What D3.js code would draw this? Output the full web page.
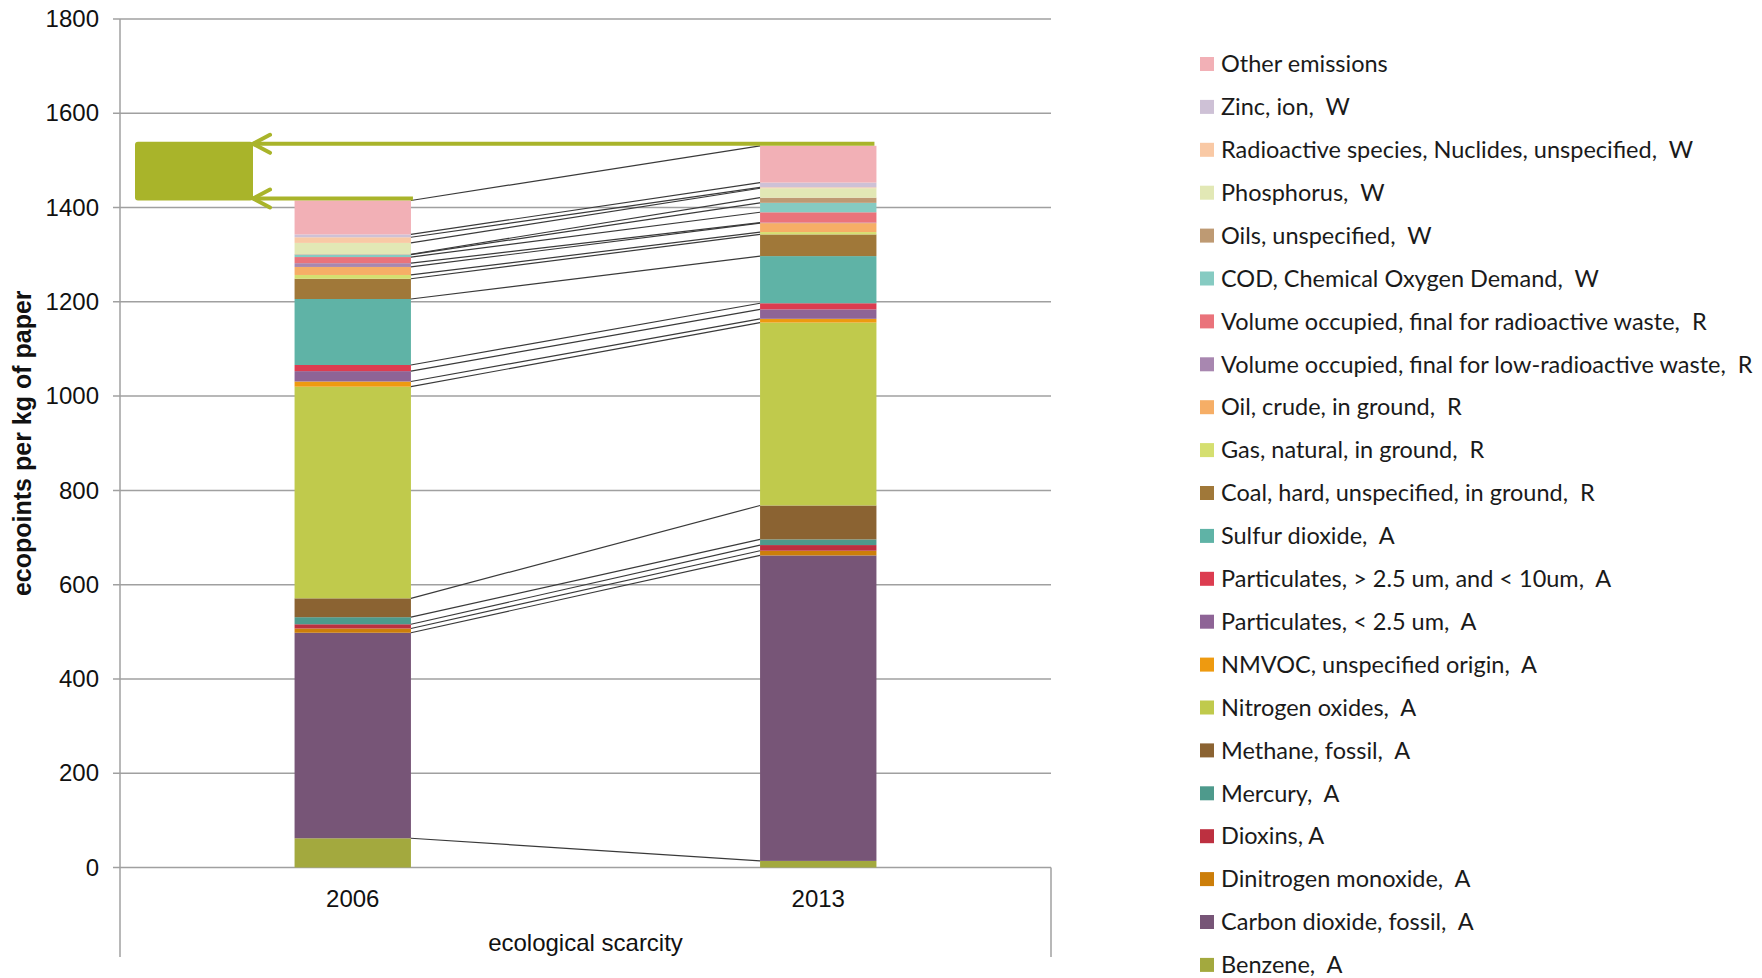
<!DOCTYPE html>
<html>
<head>
<meta charset="utf-8">
<script src="https://cdn.jsdelivr.net/npm/d3@7"></script>
<style>
  html, body { margin: 0; padding: 0; background: #fff; }
  svg { display: block; }
  .legend text { white-space: pre; }
</style>
</head>
<body>
<svg id="chart" width="1762" height="978"></svg>
<script>
// Ecological scarcity impact per kg of paper, stacked by substance
const years = ["2006", "2013"];

// Stacking order, bottom to top
const substances = [
  "Benzene,  A",
  "Carbon dioxide, fossil,  A",
  "Dinitrogen monoxide,  A",
  "Dioxins, A",
  "Mercury,  A",
  "Methane, fossil,  A",
  "Nitrogen oxides,  A",
  "NMVOC, unspecified origin,  A",
  "Particulates, < 2.5 um,  A",
  "Particulates, > 2.5 um, and < 10um,  A",
  "Sulfur dioxide,  A",
  "Coal, hard, unspecified, in ground,  R",
  "Gas, natural, in ground,  R",
  "Oil, crude, in ground,  R",
  "Volume occupied, final for low-radioactive waste,  R",
  "Volume occupied, final for radioactive waste,  R",
  "COD, Chemical Oxygen Demand,  W",
  "Oils, unspecified,  W",
  "Phosphorus,  W",
  "Radioactive species, Nuclides, unspecified,  W",
  "Zinc, ion,  W",
  "Other emissions"
];

const values2006 = [62, 436, 9, 9, 15, 40, 449, 11, 22, 13, 140, 43, 8, 17, 8, 13, 5, 1, 24, 12, 6, 72];
const values2013 = [14, 648, 10, 12, 12, 72, 388, 8, 20, 13, 100, 46, 5, 19, 1, 22, 20, 11, 20, 2, 10, 78];

const colors = [
  "#a3a93e", "#775577", "#cc7e0a", "#bd3040", "#4e9a8c", "#8b6332",
  "#c0ca4c", "#ee9a10", "#8e6496", "#dc3c50", "#5fb3a6", "#a07839",
  "#d5df70", "#f6ae66", "#a887b0", "#ea737b", "#86cbc2", "#be9a73",
  "#e2e8b5", "#f9c9a5", "#cec1d6", "#f2b0b6"
];

const yTicks = [0, 200, 400, 600, 800, 1000, 1200, 1400, 1600, 1800];
const groupLabel = "ecological scarcity";
const yTitle = "ecopoints per kg of paper";

// Rows keyed by year for d3.stack
const rows = years.map((yr, j) => {
  const row = { year: yr };
  substances.forEach((s, i) => { row[s] = (j === 0 ? values2006 : values2013)[i]; });
  return row;
});

const svg = d3.select("#chart");
const plotL = 120, plotR = 1051, plotT = 19, plotB = 867.5, axisFoot = 957;

const x = d3.scaleBand().domain(years).range([plotL, plotR]).padding(0);
const y = d3.scaleLinear().domain([0, 1800]).range([plotB, plotT]);
const barW = x.bandwidth() * 0.25;
const barX = yr => x(yr) + (x.bandwidth() - barW) / 2;

const color = d3.scaleOrdinal().domain(substances).range(colors);
const stacked = d3.stack().keys(substances)(rows);

// Gridlines with outside ticks
svg.append("g").selectAll("line").data(yTicks).join("line")
  .attr("x1", plotL - 7).attr("x2", plotR)
  .attr("y1", d => y(d)).attr("y2", d => y(d))
  .attr("stroke", "#a0a0a0").attr("stroke-width", 1.5);

// Value axis labels
const yAxis = svg.append("g").attr("transform", `translate(${plotL - 21},0)`)
  .call(d3.axisLeft(y).tickValues(yTicks).tickFormat(d3.format("d")).tickSize(0).tickPadding(0));
yAxis.select(".domain").remove();
yAxis.selectAll("text")
  .attr("font-family", "Liberation Sans, Arial, sans-serif")
  .attr("font-size", 24).attr("fill", "#111");

// Axis frame lines
svg.append("line").attr("x1", plotL).attr("x2", plotL).attr("y1", plotT).attr("y2", axisFoot)
  .attr("stroke", "#a0a0a0").attr("stroke-width", 1.5);
svg.append("line").attr("x1", plotR).attr("x2", plotR).attr("y1", plotB).attr("y2", axisFoot)
  .attr("stroke", "#a0a0a0").attr("stroke-width", 1.5);

// Stacked bars
svg.append("g").selectAll("g").data(stacked).join("g")
  .attr("fill", d => color(d.key))
  .selectAll("rect").data(d => d).join("rect")
  .attr("x", d => barX(d.data.year))
  .attr("width", barW)
  .attr("y", d => y(d[1]))
  .attr("height", d => y(d[0]) - y(d[1]));

// Series lines joining the top of each layer across the two bars
svg.append("g").selectAll("line").data(stacked).join("line")
  .attr("x1", barX(years[0]) + barW)
  .attr("x2", barX(years[1]))
  .attr("y1", d => y(d[0][1]))
  .attr("y2", d => y(d[1][1]))
  .attr("stroke", "#3a3a3a").attr("stroke-width", 1.2);

// Category labels
const catAxis = svg.append("g").attr("transform", `translate(0,${plotB})`)
  .call(d3.axisBottom(x).tickSize(0).tickPadding(22));
catAxis.select(".domain").remove();
catAxis.selectAll("text")
  .attr("font-family", "Liberation Sans, Arial, sans-serif")
  .attr("font-size", 24).attr("fill", "#111").attr("dy", "0.71em");

svg.append("text")
  .attr("x", (plotL + plotR) / 2).attr("y", 943).attr("dy", "0.35em")
  .attr("text-anchor", "middle")
  .attr("font-family", "Liberation Sans, Arial, sans-serif")
  .attr("font-size", 24).attr("fill", "#111")
  .text(groupLabel);

// Value axis title
svg.append("text")
  .attr("transform", `translate(22,${(plotT + plotB) / 2}) rotate(-90)`)
  .attr("dy", "0.35em")
  .attr("text-anchor", "middle")
  .attr("font-family", "Liberation Sans, Arial, sans-serif")
  .attr("font-weight", "bold")
  .attr("font-size", 25).attr("fill", "#111")
  .text(yTitle);

// Totals comparison: arrows from each bar top back to a highlight block
const total2006 = d3.sum(values2006), total2013 = d3.sum(values2013);
const green = "#a9b42a";
const tipX = plotL + 133;
const arrows = [
  { y: y(total2013) - 2, x2: barX(years[1]) + barW - 2 },
  { y: y(total2006) - 2, x2: barX(years[0]) + barW + 2 }
];
svg.append("rect")
  .attr("x", plotL + 15).attr("y", arrows[0].y - 2)
  .attr("width", tipX - (plotL + 15))
  .attr("height", y(total2006) - (arrows[0].y - 2))
  .attr("rx", 3).attr("fill", green);
const ag = svg.append("g").attr("stroke", green).attr("stroke-width", 4)
  .attr("fill", "none").attr("stroke-linecap", "round").attr("stroke-linejoin", "round");
arrows.forEach(a => {
  ag.append("line").attr("x1", tipX).attr("x2", a.x2).attr("y1", a.y).attr("y2", a.y)
    .attr("stroke-linecap", "butt");
  ag.append("path").attr("d", `M${tipX + 17},${a.y - 9} L${tipX},${a.y} L${tipX + 17},${a.y + 9}`);
});

// Legend, top entry is the top layer
const legendItems = substances.slice().reverse();
const legend = svg.append("g").attr("class", "legend");
const row0 = 64, rowStep = 42.9;
const item = legend.selectAll("g").data(legendItems).join("g")
  .attr("transform", (d, i) => `translate(1200,${row0 + i * rowStep})`);
item.append("rect").attr("x", 0).attr("y", -7).attr("width", 14).attr("height", 14)
  .attr("fill", d => color(d));
item.append("text").attr("x", 21).attr("dy", "0.35em")
  .attr("font-family", "Lato, 'Open Sans', sans-serif")
  .attr("font-size", 23.5).attr("fill", "#1a1a1a")
  .text(d => d);
</script>
</body>
</html>
